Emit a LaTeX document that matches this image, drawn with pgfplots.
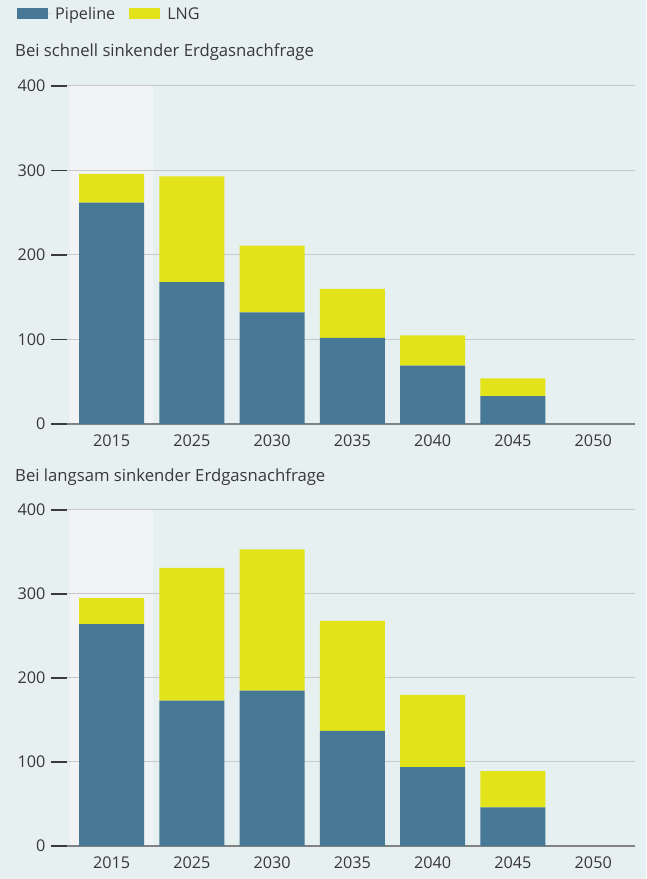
\documentclass[border=0pt]{standalone}
\usepackage{pgfplots}
\pgfplotsset{compat=1.18}
\usepackage{fontspec}
\setmainfont{Open Sans}
\definecolor{bg}{HTML}{E7F0F1}
\definecolor{band}{HTML}{F1F3F5}
\definecolor{pipe}{HTML}{477896}
\definecolor{lng}{HTML}{E2E319}
\definecolor{gridgrey}{HTML}{C5C9CB}
\definecolor{axisgrey}{HTML}{808284}
\definecolor{tickdark}{HTML}{3A3A3A}
\definecolor{textgrey}{HTML}{383838}
\pgfplotsset{
  myax/.style={
    scale only axis, width=568pt,
    xmin=-0.555, xmax=6.52, ymin=0, ymax=400,
    ytick={0,100,200,300,400},
    xtick={0,...,6},
    xticklabels={2015,2025,2030,2035,2040,2045,2050},
    axis lines*=left,
    axis line style={-},
    y axis line style={draw=none},
    x axis line style={draw=axisgrey, line width=1.6pt},
    ymajorgrids, grid style={gridgrey, line width=1pt},
    major tick length=16pt,
    tick align=outside,
    ytick style={draw=tickdark, line width=1.3pt},
    xtick style={draw=none},
    ticklabel style={font=\fontsize{16.2}{19}\selectfont, text=textgrey},
    x tick label style={yshift=9pt},
    y tick label style={xshift=-2pt},
    /pgf/number format/assume math mode=true,
    ybar stacked, bar width=65pt,
    every axis plot/.append style={draw=none},
    area legend,
    legend image code/.code={\fill[##1] (0pt,-5.5pt) rectangle (31pt,5.5pt); \path (0pt,0pt) -- (36pt,0pt);},
  }
}
\begin{document}
\begin{tikzpicture}[x=1pt,y=1pt]
\fill[bg] (0pt,0pt) rectangle (646pt,879pt);
\useasboundingbox (0pt,0pt) rectangle (646pt,879pt);
% highlighted 2015 bands
\fill[band] (70pt,455pt) rectangle (153pt,793pt);
\fill[band] (70pt,33pt) rectangle (153pt,369pt);
\node[anchor=base west, text=textgrey, font=\fontsize{16.7}{19}\selectfont, inner sep=0pt] at (15pt,822pt) {Bei schnell sinkender Erdgasnachfrage};
\node[anchor=base west, text=textgrey, font=\fontsize{16.7}{19}\selectfont, inner sep=0pt] at (15pt,397.5pt) {Bei langsam sinkender Erdgasnachfrage};
\begin{axis}[myax, at={(67pt,455pt)}, anchor=south west, height=338pt,
  legend columns=2,
  legend style={at={(rel axis cs:-0.088,1.24)}, anchor=north west, draw=none, fill=none, inner sep=0pt,
    font=\fontsize{16.2}{19}\selectfont, text=textgrey,
    /tikz/every even column/.append style={column sep=12pt}},
]
\addplot[fill=pipe] coordinates {(0,262) (1,168) (2,132) (3,102) (4,69) (5,33)};
\addplot[fill=lng] coordinates {(0,34) (1,125) (2,79) (3,58) (4,36) (5,21)};
\legend{Pipeline, LNG}
\end{axis}
\begin{axis}[myax, at={(67pt,33pt)}, anchor=south west, height=336pt]
\addplot[fill=pipe] coordinates {(0,264) (1,173) (2,185) (3,137) (4,94) (5,46)};
\addplot[fill=lng] coordinates {(0,31) (1,158) (2,168) (3,131) (4,86) (5,43)};
\end{axis}
\end{tikzpicture}
\end{document}
